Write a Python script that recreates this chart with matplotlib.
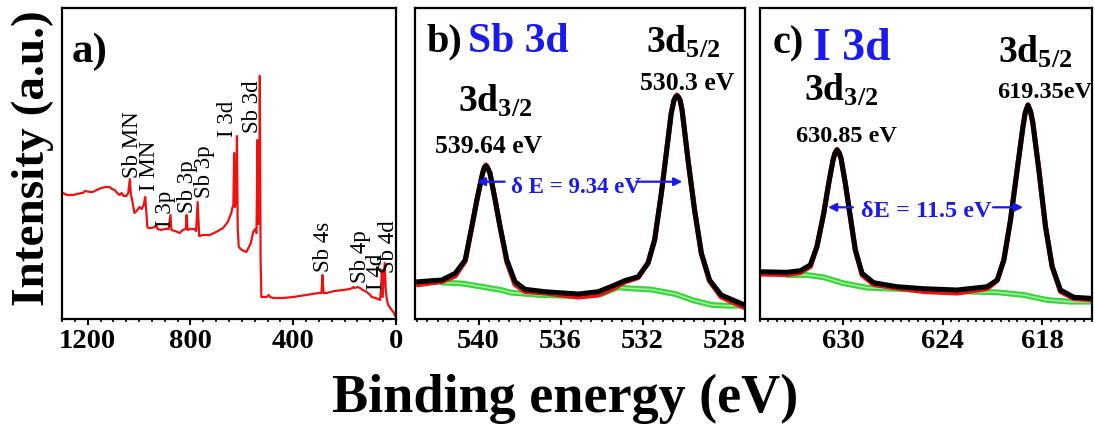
import matplotlib
matplotlib.use('Agg')
import matplotlib.pyplot as plt
from matplotlib.ticker import MultipleLocator, FixedLocator

plt.rcParams['font.family'] = ['Liberation Serif', 'DejaVu Serif']
plt.rcParams['mathtext.fontset'] = 'custom'
plt.rcParams['mathtext.rm'] = 'Liberation Serif:bold'
plt.rcParams['mathtext.bf'] = 'Liberation Serif:bold'
plt.rcParams['mathtext.it'] = 'Liberation Serif:bold:italic'

BLUE = '#1a1aee'

# ---------------- (a) survey spectrum ----------------
survey_be = [1300, 1297, 1280, 1258, 1240, 1225, 1219, 1210, 1190, 1180, 1165, 1147, 1130, 1115,
             1105, 1095, 1085, 1076, 1068, 1060, 1050, 1042, 1036, 1032, 1027, 1018, 1010, 998,
             990, 982, 976, 972, 968, 962, 950, 940, 933, 928, 915, 900, 885, 878, 874, 860,
             842, 830, 818, 815, 811, 800, 785, 778, 772, 766, 750, 725, 700, 673, 655, 641,
             636, 633, 630, 627, 622, 619, 616, 612, 600, 582, 565, 556, 548, 543, 539, 535,
             532, 530, 527, 524, 515, 504, 495, 490, 478, 440, 400, 350, 300, 290, 286, 282,
             270, 240, 205, 180, 170, 166, 160, 150, 140, 130, 114, 100, 95, 80, 70, 62, 58,
             55, 52, 44, 40, 36, 30, 20, 10, 5, 0]
survey_int = [126, 126, 124, 124, 125, 126, 126, 128, 127, 127, 129, 131, 132, 132,
              130, 129, 126, 124, 126, 123, 123, 126, 140, 125, 119, 106, 108, 112,
              110, 114, 122, 108, 92, 91, 91, 92, 94, 90, 89, 90, 90, 104, 89, 88,
              86, 89, 90, 104, 89, 90, 90, 88, 117, 83, 84, 84, 87, 91, 97, 106,
              112, 114, 166, 112, 120, 183, 90, 72, 69, 67, 76, 87, 90, 86, 179, 95,
              110, 243, 60, 22, 22, 22, 24, 22, 21, 21, 22, 24, 26, 26, 44, 26,
              26, 28, 29, 30, 31, 32, 31, 32, 31, 29, 27, 24, 22, 21, 20, 19, 30,
              49, 22, 56, 30, 20, 14, 10, 7, 4, 2]
survey_labels = ['Sb MN', 'I MN', 'I 3p', 'Sb 3p', 'Sb 3p', 'I 3d', 'Sb 3d',
                 'Sb 4s', 'Sb 4p', 'I 4d', 'Sb 4d']
survey_label_be = [1024, 959, 897, 810, 745, 654, 559, 283, 140, 75, 30]
survey_label_int = [141, 128, 92, 106, 121, 182, 186, 47, 36, 29, 46]

# ---------------- (b) Sb 3d ----------------
sb_be = [542.92, 541.79, 541.14, 540.65, 540.33, 540.08, 539.84, 539.76, 539.70, 539.64,
         539.58, 539.51, 539.44, 539.19, 538.95, 538.62, 538.22, 537.73, 536.76, 535.13,
         534.16, 533.35, 532.87, 532.21, 531.73, 531.41, 531.08, 530.84, 530.60, 530.46,
         530.39, 530.32, 530.25, 530.17, 530.07, 529.78, 529.46, 529.13, 528.73, 528.16,
         527.51, 527.02]
sb_fit = [38.3, 40, 46.7, 60, 93.3, 120, 143.3, 150, 153, 154,
          153, 150, 146.7, 120, 93.3, 60, 38.3, 30.7, 28.3, 26,
          28.3, 35, 39.3, 43.3, 56.7, 80, 126.7, 166.7, 206.7, 220,
          223, 224, 223, 220, 210, 160, 110, 66.7, 40, 25,
          19.3, 15]
sb_raw = [35.5, 38.5, 44, 59, 93, 120, 143.3, 150, 153, 155,
          153, 150, 146.7, 120, 93.3, 58, 35.5, 28.5, 27, 23,
          25, 32.5, 38, 42.5, 57.5, 80, 126.7, 166.7, 206.7, 220,
          223, 225, 223, 220, 210, 160, 110, 66.7, 39, 23,
          17, 12.5]
sb_bg_be = [541.79, 540.8, 539.9, 538.9, 538.4, 537.0, 535.4, 534.0, 533.2, 532.5,
            531.6, 530.4, 529.5, 528.6, 527.9, 527.1]
sb_bg = [37.5, 36.5, 33.5, 30, 27.3, 25, 24, 26, 32.7, 31.5,
         30.5, 26, 19.5, 15, 14.3, 14.3]

# ---------------- (c) I 3d ----------------
i_be = [634.99, 633.38, 632.57, 631.97, 631.57, 631.16, 630.86, 630.60, 630.48, 630.36,
        630.24, 630.12, 629.86, 629.56, 629.26, 628.85, 628.15, 626.74, 625.13, 623.13,
        621.32, 620.71, 620.31, 619.91, 619.51, 619.16, 619.02, 618.86, 618.70, 618.56,
        618.20, 617.80, 617.40, 616.90, 616.09, 615.09]
i_fit = [48.8, 48.2, 49.8, 55.5, 73.8, 107.2, 137.2, 160.5, 167.5, 170.5,
         168, 162.2, 137.2, 103.8, 70.5, 47.2, 37.8, 33.8, 31.8, 30.5,
         33.8, 40.5, 60.5, 100.5, 150.5, 193.8, 208, 215.5, 209, 197.2,
         150.5, 93.8, 53.8, 30.5, 23.2, 22.2]
i_raw = [46.5, 46, 48, 54, 74, 107.2, 137.2, 160.5, 167.5, 171,
         168, 162.2, 137.2, 103.8, 71, 45.5, 36, 32.5, 29, 27.5,
         32, 40, 60.5, 100.5, 150.5, 193.8, 208, 215.5, 209, 197.2,
         150.5, 93.8, 54, 29, 22, 21]
i_bg_be = [633.38, 632.17, 631.16, 629.96, 628.55, 626.14, 623.93, 622.12, 620.71,
           619.10, 617.70, 616.29, 615.09]
i_bg = [45.5, 45.5, 43.2, 37.2, 32.8, 31.2, 29.8, 28.8, 28.2,
        25.5, 20.5, 18.8, 18.8]

W, H = 1095, 428
fig = plt.figure(figsize=(W / 100, H / 100), dpi=100)

def box(l, r, t=8.3, b=319):
    return [l / W, 1 - b / H, (r - l) / W, (b - t) / H]

axa = fig.add_axes(box(62, 396))
axb = fig.add_axes(box(415, 745))
axc = fig.add_axes(box(760, 1092))

for ax in (axa, axb, axc):
    for s in ax.spines.values():
        s.set_linewidth(1.6)
    ax.set_yticks([])
    ax.tick_params(axis='x', which='major', direction='out', length=4, width=1.5,
                   labelsize=20.5, pad=3)
    ax.tick_params(axis='x', which='minor', direction='out', length=2.5, width=1.2)

# (a)
axa.plot(survey_be, survey_int, color='#ee1111', lw=1.6)
axa.set_xlim(1300, 0)
axa.set_ylim(0, 310.7)
axa.xaxis.set_major_locator(FixedLocator([1200, 800, 400, 0]))
axa.xaxis.set_minor_locator(MultipleLocator(50))
for name, xb, yi in zip(survey_labels, survey_label_be, survey_label_int):
    axa.text(xb, yi, name, rotation=90, ha='center', va='bottom', fontsize=16.5,
             color='black')
axa.text(0.03, 0.827, 'a)', transform=axa.transAxes, fontsize=31, fontweight='bold',
         ha='left', va='baseline')

# (b)
axb.plot(sb_bg_be, sb_bg, color='#3ad43a', lw=4.2, solid_capstyle='round')
axb.plot(sb_bg_be, sb_bg, color='#9cf09c', lw=1.2)
axb.plot(sb_be, sb_raw, color='#ee1111', lw=3.7, solid_joinstyle='round')
axb.plot(sb_be, sb_fit, color='black', lw=3.6, solid_joinstyle='round')
axb.set_xlim(543.1, 527.0)
axb.set_ylim(1, 311.7)
axb.xaxis.set_major_locator(FixedLocator([540, 536, 532, 528]))
axb.xaxis.set_minor_locator(MultipleLocator(0.5))
axb.text(0.036, 0.862, 'b)', transform=axb.transAxes, fontsize=29, fontweight='bold',
         ha='left', va='baseline')
axb.text(0.161, 0.859, 'Sb 3d', transform=axb.transAxes, fontsize=30, fontweight='bold',
         color=BLUE, ha='left', va='baseline')
axb.text(539.21, 208.3, r'3d$_{\mathbf{3/2}}$', fontsize=27, fontweight='bold',
         ha='center', va='baseline')
axb.text(539.50, 167, '539.64 eV', fontsize=18.5, fontweight='bold', ha='center',
         va='baseline')
axb.text(530.03, 267, r'3d$_{\mathbf{5/2}}$', fontsize=27, fontweight='bold',
         ha='center', va='baseline')
axb.text(529.82, 230, '530.3 eV', fontsize=18.5, fontweight='bold', ha='center',
         va='baseline')
axb.text(535.27, 127.3, 'δ E = 9.34 eV', fontsize=16.5, fontweight='bold', color=BLUE,
         ha='center', va='baseline')
ap = dict(arrowstyle='-|>', color=BLUE, lw=1.6, mutation_scale=12, shrinkA=0, shrinkB=0)
axb.annotate('', xy=(540.08, 138.3), xytext=(538.72, 138.3), arrowprops=ap)
axb.annotate('', xy=(530.06, 138.3), xytext=(532.31, 138.3), arrowprops=ap)

# (c)
axc.plot(i_bg_be, i_bg, color='#3ad43a', lw=4.2, solid_capstyle='round')
axc.plot(i_bg_be, i_bg, color='#9cf09c', lw=1.2)
axc.plot(i_be, i_raw, color='#ee1111', lw=3.7, solid_joinstyle='round')
axc.plot(i_be, i_fit, color='black', lw=3.6, solid_joinstyle='round')
axc.set_xlim(635.0, 615.0)
axc.set_ylim(1.5, 312.2)
axc.xaxis.set_major_locator(FixedLocator([630, 624, 618]))
axc.xaxis.set_minor_locator(MultipleLocator(0.5))
axc.text(0.039, 0.855, 'c)', transform=axc.transAxes, fontsize=29, fontweight='bold',
         ha='left', va='baseline')
axc.text(0.160, 0.834, 'I 3d', transform=axc.transAxes, fontsize=33, fontweight='bold',
         color=BLUE, ha='left', va='baseline')
axc.text(630.09, 219.5, r'3d$_{\mathbf{3/2}}$', fontsize=27, fontweight='bold',
         ha='center', va='baseline')
axc.text(629.82, 179, '630.85 eV', fontsize=17.5, fontweight='bold', ha='center',
         va='baseline')
axc.text(618.42, 257.5, r'3d$_{\mathbf{5/2}}$', fontsize=27, fontweight='bold',
         ha='center', va='baseline')
axc.text(617.88, 223, '619.35eV', fontsize=17.5, fontweight='bold', ha='center',
         va='baseline')
axc.text(624.96, 103.5, 'δE = 11.5 eV', fontsize=17.5, fontweight='bold', color=BLUE,
         ha='center', va='baseline')
axc.annotate('', xy=(630.90, 113.2), xytext=(629.40, 113.2), arrowprops=ap)
axc.annotate('', xy=(619.15, 113.2), xytext=(620.96, 113.2), arrowprops=ap)

for ax in (axa, axb, axc):
    for lab in ax.get_xticklabels():
        lab.set_fontweight('bold')

fig.text(33 / W, 1 - 158 / H, 'Intensity (a.u.)', rotation=90, fontsize=34,
         fontweight='bold', ha='center', va='center')
fig.text(565 / W, 1 - 411.5 / H, 'Binding energy (eV)', fontsize=39, fontweight='bold',
         ha='center', va='baseline')

fig.savefig('out.png', dpi=100)
